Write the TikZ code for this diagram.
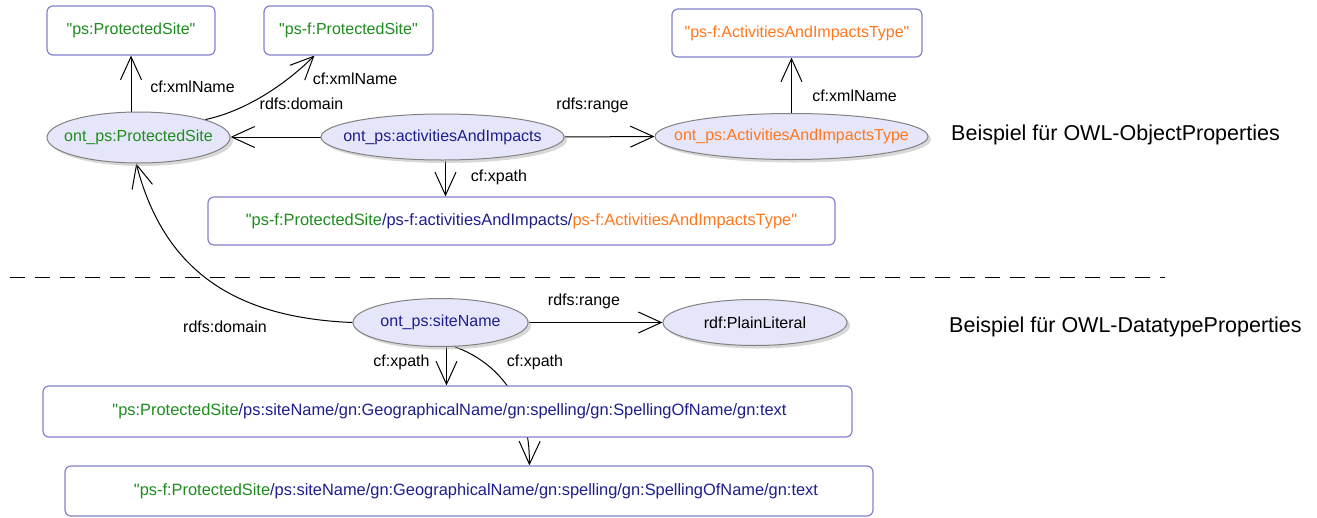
\documentclass[tikz,border=0pt]{standalone}
\usepackage{fontspec}
\setmainfont{Liberation Sans}
\usetikzlibrary{arrows.meta,shadows,backgrounds,calc,shapes.geometric}
\definecolor{cgreen}{RGB}{30,140,30}
\definecolor{cnavy}{RGB}{30,30,140}
\definecolor{corange}{RGB}{255,120,30}
\definecolor{efill}{RGB}{230,230,250}
\definecolor{eborder}{RGB}{130,130,130}
\definecolor{bborder}{RGB}{130,130,205}
\newcommand{\et}[1]{\makebox[0pt][c]{#1}}
\newcommand{\qq}{\textquotedbl}
\begin{document}
\begin{tikzpicture}[x=1pt,y=-1pt,
  every node/.style={font=\fontsize{16}{19}\selectfont, inner sep=0pt},
  ell/.style={ellipse, draw=eborder, line width=1pt, fill=efill,
    drop shadow={shadow xshift=3pt, shadow yshift=-3pt, fill=black!30}},
  rbox/.style={rectangle, rounded corners=6pt, draw=bborder, line width=1.2pt, fill=white},
  wide/.style={font=\fontsize{16.4}{19}\selectfont},
  arr/.style={-{Straight Barb[length=23pt,width=21pt,line width=1pt]}, line width=1pt},
  lbl/.style={text=black},
  note/.style={font=\fontsize{21.5}{25}\selectfont, anchor=west}]
\useasboundingbox (0,0) rectangle (1317,517);

% boxes
\node[rbox, minimum width=168, minimum height=49] (b1) at (131,30.5) {\textcolor{cgreen}{\qq ps:ProtectedSite\qq}};
\node[rbox, minimum width=169, minimum height=49] (b2) at (348.5,30.5) {\textcolor{cgreen}{\qq ps-f:ProtectedSite\qq}};
\node[rbox, minimum width=250, minimum height=48] (b3) at (797,33) {\textcolor{corange}{\qq ps-f:ActivitiesAndImpactsType\qq}};
\node[rbox, wide, minimum width=627, minimum height=48] (bx1) at (521.5,221) {\textcolor{cgreen}{\qq ps-f:ProtectedSite}\textcolor{cnavy}{/ps-f:activitiesAndImpacts/}\textcolor{corange}{ps-f:ActivitiesAndImpactsType\qq}};
\node[rbox, wide, minimum width=809, minimum height=51] (bx2) at (447.5,411.5) {\hspace*{4pt}\textcolor{cgreen}{\qq ps:ProtectedSite}\textcolor{cnavy}{/ps:siteName/gn:GeographicalName/gn:spelling/gn:SpellingOfName/gn:text}};
\node[rbox, wide, minimum width=808, minimum height=50] (bx3) at (469,491) {\hspace*{14pt}\textcolor{cgreen}{\qq ps-f:ProtectedSite}\textcolor{cnavy}{/ps:siteName/gn:GeographicalName/gn:spelling/gn:SpellingOfName/gn:text}};

% ellipses
\node[ell, minimum width=183, minimum height=51] (ePS) at (138.5,137.5) {\et{\textcolor{cgreen}{ont\_ps:ProtectedSite}}};
\node[ell, minimum width=243, minimum height=46] (eAI) at (442.5,137) {\et{\textcolor{cnavy}{ont\_ps:activitiesAndImpacts}}};
\node[ell, minimum width=273, minimum height=46] (eAIT) at (791.5,136.5) {\et{\textcolor{corange}{ont\_ps:ActivitiesAndImpactsType}}};
\node[ell, minimum width=175, minimum height=48] (eSN) at (440.5,322.5) {\et{\textcolor{cnavy}{ont\_ps:siteName}}};
\node[ell, minimum width=184, minimum height=46] (ePL) at (755,322.5) {\et{rdf:PlainLiteral}};

% connectors
\begin{scope}[on background layer]
\fill[white] (0,0) rectangle (1317,517);
\draw[arr] (ePS.north -| b1.south) -- (b1.south);
\coordinate (b2in) at ($(b2.south west)+(51,0)$);
\draw[arr] (ePS.15) .. controls (250,110) and (290,80) .. (b2in);
\draw[arr] (eAI.west) -- (eAI.west -| ePS.east);
\draw[arr] (eAI.east) -- (eAIT.west);
\draw[arr] (eAIT.north) -- (eAIT.north |- b3.south);
\coordinate (aix) at ($(eAI.south)+(3,0)$);
\draw[arr] (aix) -- (aix |- bx1.north);
\draw[arr] (eSN.west) .. controls (240,318) and (165,275) .. (ePS.265);
\draw[arr] (eSN.east) -- (ePL.west);
\coordinate (snx) at ($(eSN.south)+(6,0)$);
\draw[arr] (snx) -- (snx |- bx2.north);
\coordinate (bx3in) at ($(bx3.north west)+(465,0)$);
\draw[arr] (eSN.-60) .. controls (497,362) and (530,400) .. (bx3in);
\end{scope}

% dashed separator
\coordinate (dl) at (10,277);
\coordinate (dr) at (1165,277);
\draw[line width=1pt, dash pattern=on 15pt off 10pt] (dl) -- (dr);

% labels
\node[lbl] (l1) at (192.5,87) {cf:xmlName};
\node[lbl] (l2) at (355,79) {cf:xmlName};
\node[lbl] (l3) at (301.5,104) {rdfs:domain};
\node[lbl] (l4) at (592.5,105) {rdfs:range};
\node[lbl] (l5) at (499,177) {cf:xpath};
\node[lbl] (l6) at (854.5,96) {cf:xmlName};
\node[lbl] (l7) at (225,327) {rdfs:domain};
\node[lbl] (l8) at (584,301) {rdfs:range};
\node[lbl] (l9) at (401.5,362) {cf:xpath};
\node[lbl] (l10) at (535,362) {cf:xpath};

\node[note] (n1) at (951,135) {Beispiel für OWL-ObjectProperties};
\node[note] (n2) at (949,327) {Beispiel für OWL-DatatypeProperties};
\end{tikzpicture}
\end{document}
